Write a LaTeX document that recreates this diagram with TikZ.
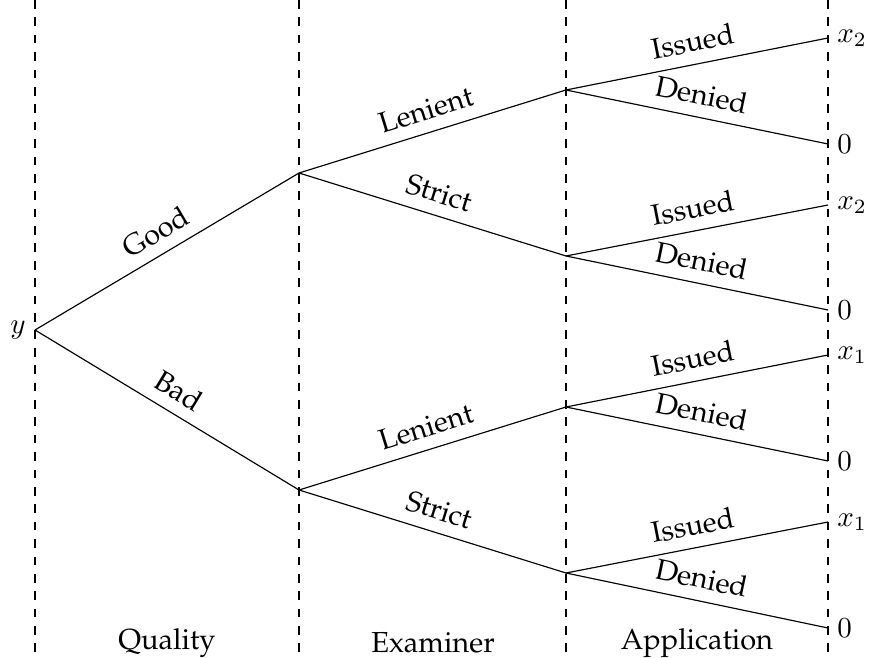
\documentclass[tikz,border=0pt]{standalone}
\usepackage[T1]{fontenc}
\renewcommand{\rmdefault}{ppl}
\begin{document}
\begin{tikzpicture}[x=0.345pt,y=-0.345pt,
  edge/.style={draw,line width=0.4pt},
  guide/.style={draw,dashed,line width=0.4pt},
  elab/.style={sloped,above=2pt,midway,inner sep=2pt},
  leaf/.style={right,inner sep=3pt},
  stage/.style={inner sep=0pt}]
\useasboundingbox (0,0) rectangle (870,658);
% guides
\foreach \x/\n in {35/g0,299/g1,566/g2,828/g3}{
  \coordinate (\n t) at (\x,0);
  \coordinate (\n b) at (\x,658);
  \draw[guide] (\n t) -- (\n b);
}
% nodes
\coordinate (r) at (35,330);
\coordinate (g) at (299,173);
\coordinate (b) at (299,490);
\coordinate (gl) at (566,90);
\coordinate (gs) at (566,256);
\coordinate (bl) at (566,407);
\coordinate (bs) at (566,573);
\coordinate (e1) at (828,38);
\coordinate (e2) at (828,144);
\coordinate (e3) at (828,205);
\coordinate (e4) at (828,310);
\coordinate (e5) at (828,355);
\coordinate (e6) at (828,461);
\coordinate (e7) at (828,522);
\coordinate (e8) at (828,628);
\node[left,inner sep=3pt] (ry) at (r) {$y$};
% edges
\draw[edge] (r) -- node[elab]{Good} (g);
\draw[edge] (r) -- node[elab]{Bad} (b);
\draw[edge] (g) -- node[elab]{Lenient} (gl);
\draw[edge] (g) -- node[elab]{Strict} (gs);
\draw[edge] (b) -- node[elab]{Lenient} (bl);
\draw[edge] (b) -- node[elab]{Strict} (bs);
\draw[edge] (gl) -- node[elab]{Issued} (e1);
\draw[edge] (gl) -- node[elab]{Denied} (e2);
\draw[edge] (gs) -- node[elab]{Issued} (e3);
\draw[edge] (gs) -- node[elab]{Denied} (e4);
\draw[edge] (bl) -- node[elab]{Issued} (e5);
\draw[edge] (bl) -- node[elab]{Denied} (e6);
\draw[edge] (bs) -- node[elab]{Issued} (e7);
\draw[edge] (bs) -- node[elab]{Denied} (e8);
% leaf labels
\node[leaf] (t1) at (e1) {$x_2$};
\node[leaf] (t2) at (e2) {$0$};
\node[leaf] (t3) at (e3) {$x_2$};
\node[leaf] (t4) at (e4) {$0$};
\node[leaf] (t5) at (e5) {$x_1$};
\node[leaf] (t6) at (e6) {$0$};
\node[leaf] (t7) at (e7) {$x_1$};
\node[leaf] (t8) at (e8) {$0$};
% stage labels
\node[stage] (q) at (167,643) {Quality};
\node[stage] (ex) at (433,643) {Examiner};
\node[stage] (ap) at (697,643) {Application};
\end{tikzpicture}
\end{document}
